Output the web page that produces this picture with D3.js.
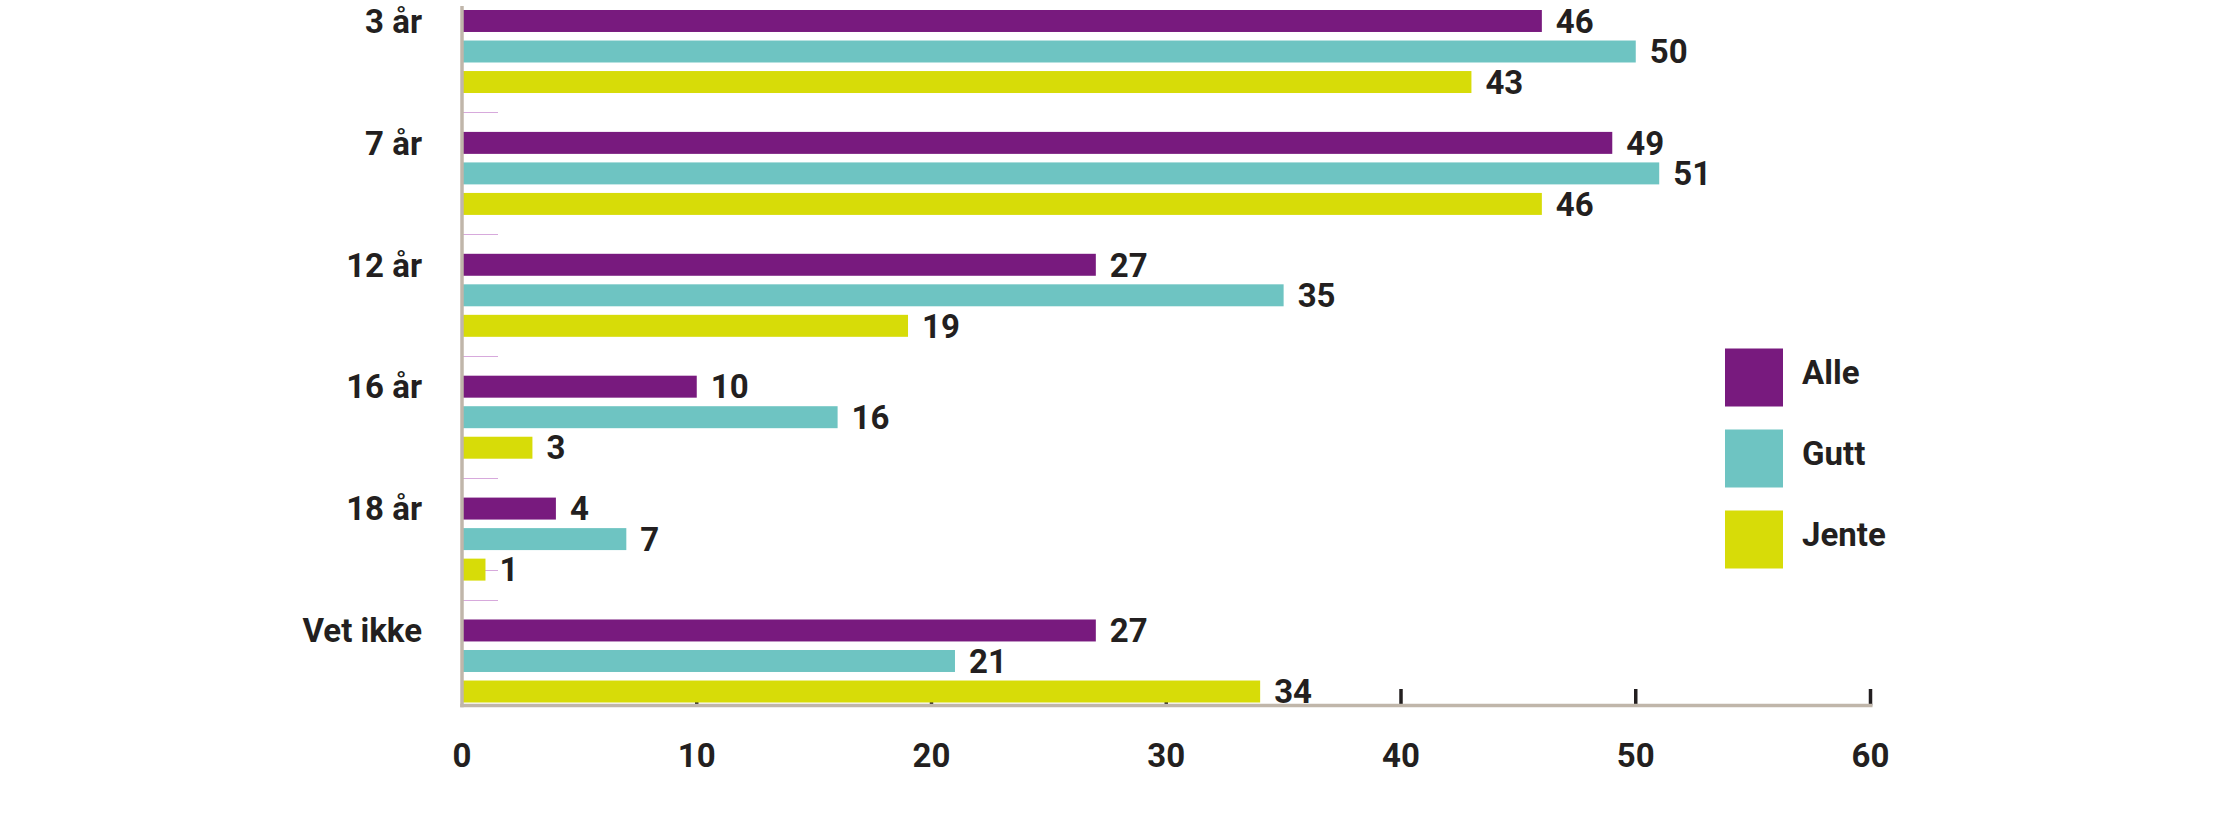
<!DOCTYPE html>
<html>
<head>
<meta charset="utf-8">
<script src="https://cdn.jsdelivr.net/npm/d3@7"></script>
<style>
  html, body { margin: 0; padding: 0; background: #ffffff; }
  svg { display: block; }
  text { font-family: Roboto, "Open Sans", sans-serif; font-weight: 700; fill: #231f20; }
</style>
</head>
<body>
<div id="chart"></div>
<script>
// ---- data ----
const categories = ["3 år", "7 år", "12 år", "16 år", "18 år", "Vet ikke"];
const seriesNames = ["Alle", "Gutt", "Jente"];
const alle  = [46, 49, 27, 10, 4, 27];
const gutt  = [50, 51, 35, 16, 7, 21];
const jente = [43, 46, 19, 3, 1, 34];
const xTicks = [0, 10, 20, 30, 40, 50, 60];
const colors = ["#781a7e", "#6ec4c2", "#d7dc08"];

const W = 2215, H = 824;
const fontSize = 33;
const capH = fontSize * 0.711;

const svg = d3.select("#chart").append("svg").attr("width", W).attr("height", H);

const x = d3.scaleLinear().domain([0, 60]).range([462, 1870.5]);
const y = d3.scaleBand().domain(categories).range([10, 702.5]).paddingInner(0.319).paddingOuter(0);
const ySub = d3.scaleBand().domain(seriesNames).range([0, y.bandwidth()]).paddingInner(0.28).paddingOuter(0);

const seriesValues = [alle, gutt, jente];
const rows = [];
categories.forEach((c, i) => {
  seriesNames.forEach((s, j) => rows.push({ cat: c, series: s, value: seriesValues[j][i], color: colors[j] }));
});

// light purple minor lines (group separators and bar centres), behind bars
const gap = y.step() - y.bandwidth();
const sepY = categories.slice(1).map(c => y(c) - gap / 2);
const minorY = sepY.concat(rows.map(r => y(r.cat) + ySub(r.series) + ySub.bandwidth() / 2));
svg.append("g").selectAll("line").data(minorY).join("line")
  .attr("x1", x(0)).attr("x2", x(0) + 36)
  .attr("y1", d => Math.round(d) + 0.5).attr("y2", d => Math.round(d) + 0.5)
  .attr("stroke", "#d7a9dc").attr("stroke-width", 1);

// x ticks (behind bars)
const axisY = 705.5;
svg.append("g").selectAll("line").data(xTicks.filter(t => t > 0)).join("line")
  .attr("x1", d => x(d)).attr("x2", d => x(d))
  .attr("y1", axisY - 16.5).attr("y2", axisY)
  .attr("stroke", "#231f20").attr("stroke-width", 3.5);

// bars
svg.append("g").selectAll("rect").data(rows).join("rect")
  .attr("x", x(0))
  .attr("y", d => y(d.cat) + ySub(d.series))
  .attr("width", d => x(d.value) - x(0))
  .attr("height", ySub.bandwidth())
  .attr("fill", d => d.color);

// value labels
svg.append("g").selectAll("text").data(rows).join("text")
  .attr("x", d => x(d.value) + 14)
  .attr("y", d => y(d.cat) + ySub(d.series) + ySub.bandwidth() / 2 + capH / 2)
  .attr("font-size", fontSize)
  .text(d => d.value);

// axis lines
svg.append("line")
  .attr("x1", x(0)).attr("x2", x(0))
  .attr("y1", 6).attr("y2", axisY + 1.75)
  .attr("stroke", "#c0b6aa").attr("stroke-width", 3.5);
svg.append("line")
  .attr("x1", x(0) - 1.75).attr("x2", x(60) + 2)
  .attr("y1", axisY).attr("y2", axisY)
  .attr("stroke", "#c0b6aa").attr("stroke-width", 3.5);

// x tick labels
svg.append("g").selectAll("text").data(xTicks).join("text")
  .attr("x", d => x(d))
  .attr("y", 766.5)
  .attr("text-anchor", "middle")
  .attr("font-size", fontSize)
  .text(d => d);

// category labels, aligned with first bar of each group
svg.append("g").selectAll("text").data(categories).join("text")
  .attr("x", 422)
  .attr("y", d => y(d) + ySub(seriesNames[0]) + ySub.bandwidth() / 2 + capH / 2)
  .attr("text-anchor", "end")
  .attr("font-size", fontSize)
  .text(d => d);

// legend
const legend = svg.append("g").selectAll("g").data(seriesNames).join("g")
  .attr("transform", (d, i) => `translate(1725, ${348.5 + i * 81})`);
legend.append("rect").attr("width", 58).attr("height", 58).attr("fill", (d, i) => colors[i]);
legend.append("text")
  .attr("x", 77)
  .attr("y", 29 + capH / 2 - 5)
  .attr("font-size", fontSize)
  .text(d => d);
</script>
</body>
</html>
